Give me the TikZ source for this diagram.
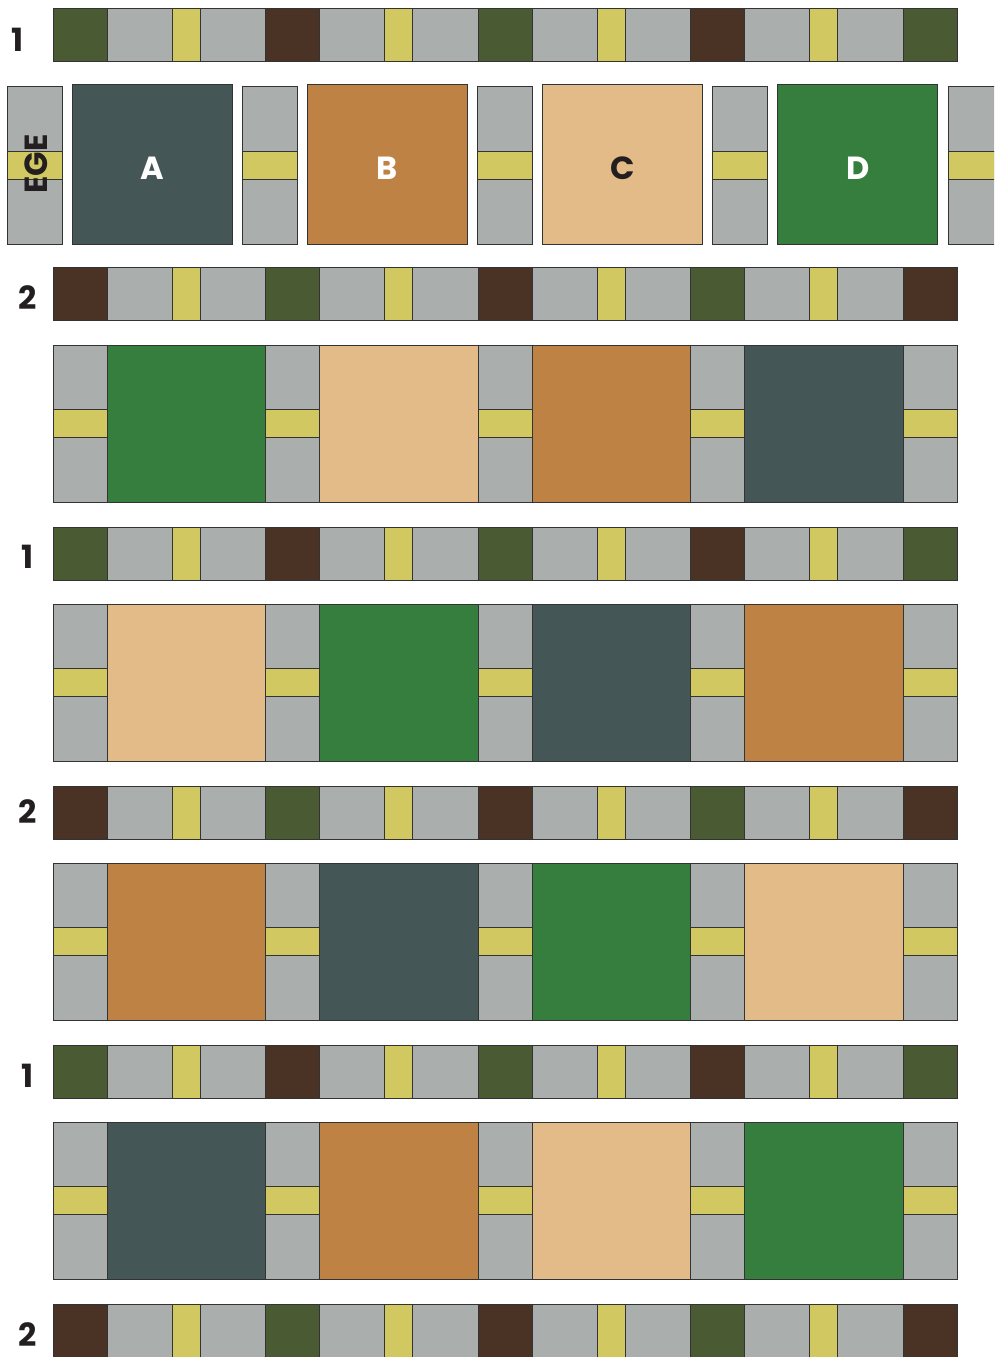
\documentclass[tikz,border=0pt]{standalone}
\usepackage{fontspec}
\setmainfont{Poppins}
\definecolor{sashgray}{HTML}{AAAEAC}
\definecolor{stripe}{HTML}{D2C862}
\definecolor{olive}{HTML}{4A5B33}
\definecolor{umber}{HTML}{4A3324}
\definecolor{slate}{HTML}{445656}
\definecolor{copper}{HTML}{BF8245}
\definecolor{sand}{HTML}{E3BB88}
\definecolor{leaf}{HTML}{367E3E}
\definecolor{ink}{HTML}{231F20}

% one horizontal sashing strip: top edge, first corner, second corner
\newcommand{\sashrow}[3]{%
  \foreach \i in {0,...,4}{%
    \pgfmathsetmacro{\cx}{53+212.5*\i}
    \ifodd\i \def\cc{#3}\else\def\cc{#2}\fi
    \draw[patch, fill=\cc] (\cx,#1) rectangle ++(54,53.5);
  }
  \foreach \i in {0,...,3}{%
    \pgfmathsetmacro{\cx}{107+212.5*\i}
    \draw[patch, fill=sashgray] (\cx,#1) rectangle ++(158.5,53.5);
    \draw[patch, fill=stripe] (\cx+65,#1) rectangle ++(28,53.5);
  }
}
% one row of blocks with vertical sashing
\newcommand{\blockrow}[5]{%
  \foreach \i in {0,...,4}{%
    \pgfmathsetmacro{\cx}{53+212.5*\i}
    \draw[patch, fill=sashgray] (\cx,#1) rectangle ++(54,157.5);
    \draw[patch, fill=stripe] (\cx,#1+64.75) rectangle ++(54,28);
  }
  \foreach \c [count=\i from 0] in {#2,#3,#4,#5}{%
    \pgfmathsetmacro{\cx}{107+212.5*\i}
    \draw[patch, fill=\c] (\cx,#1) rectangle ++(158.5,157.5);
  }
}

\begin{document}
\begin{tikzpicture}[x=1pt, y=-1pt, line join=miter]
\tikzset{
    patch/.style={draw=black!80, line width=0.9pt},
    rowlabel/.style={font=\bfseries\fontsize{32}{32}\selectfont, text=ink},
    blocklabel/.style={font=\bfseries\fontsize{32}{32}\selectfont}
}
\useasboundingbox (0,0) rectangle (994,1357);
\clip (0,0) rectangle (994,1357);

% sashing strips
\sashrow{8}{olive}{umber}
\sashrow{267}{umber}{olive}
\sashrow{527}{olive}{umber}
\sashrow{786}{umber}{olive}
\sashrow{1045}{olive}{umber}
\sashrow{1304}{umber}{olive}

% block rows
\blockrow{345}{leaf}{sand}{copper}{slate}
\blockrow{604}{sand}{leaf}{slate}{copper}
\blockrow{863}{copper}{slate}{leaf}{sand}
\blockrow{1122}{slate}{copper}{sand}{leaf}

% exploded row of units
\foreach \i in {0,...,4}{
  \pgfmathsetmacro{\sx}{7+235.3*\i}
  \draw[patch, fill=sashgray] (\sx,86) rectangle ++(55,158);
  \draw[patch, fill=stripe] (\sx,151) rectangle ++(55,28.5);
}
\foreach \c/\t/\tc [count=\i from 0] in {slate/A/white, copper/B/white, sand/C/ink, leaf/D/white}{
  \pgfmathsetmacro{\bx}{72+235.3*\i}
  \draw[patch, fill=\c] (\bx,84) rectangle ++(160,160);
  \node[blocklabel, text=\tc] (blk\t) at (\bx+80,168) {\t};
}
\node[rowlabel, rotate=90] (edge) at (36,164) {EGE};

% row labels
\node[rowlabel] (lab1a) at (18,40) {1};
\node[rowlabel] (lab2a) at (28,298) {2};
\node[rowlabel] (lab1b) at (28,557) {1};
\node[rowlabel] (lab2b) at (28,812) {2};
\node[rowlabel] (lab1c) at (28,1076) {1};
\node[rowlabel] (lab2c) at (28,1335) {2};
\end{tikzpicture}
\end{document}
